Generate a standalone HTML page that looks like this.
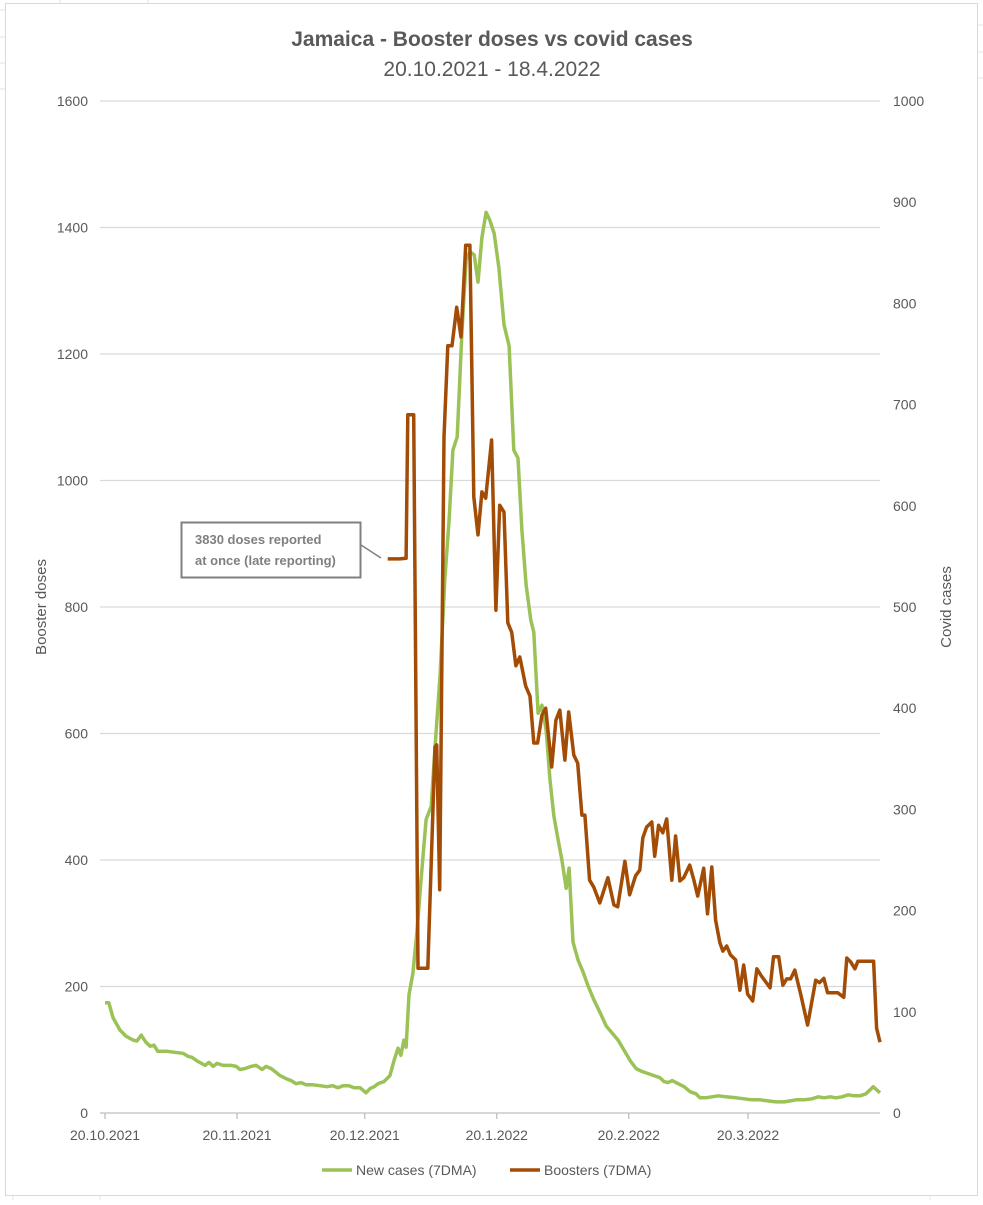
<!DOCTYPE html>
<html><head><meta charset="utf-8"><style>
body{margin:0;background:#fff;}
svg text{font-family:"Liberation Sans",sans-serif;}
</style></head><body>
<svg width="983" height="1200" xmlns="http://www.w3.org/2000/svg">
<rect x="0" y="0" width="983" height="1200" fill="#fff"/>
<g stroke="#e3e3e3" stroke-width="1">
<line x1="0" y1="10" x2="5" y2="10"/><line x1="0" y1="37" x2="5" y2="37"/><line x1="0" y1="63" x2="5" y2="63"/><line x1="0" y1="89" x2="5" y2="89"/>
<line x1="60" y1="0" x2="60" y2="3"/><line x1="148" y1="0" x2="148" y2="3"/><line x1="978" y1="25" x2="983" y2="25"/><line x1="978" y1="52" x2="983" y2="52"/><line x1="978" y1="78" x2="983" y2="78"/>
<line x1="13" y1="1196" x2="13" y2="1200"/><line x1="100" y1="1196" x2="100" y2="1200"/><line x1="930" y1="1196" x2="930" y2="1200"/>
</g>
<rect x="5.5" y="3.5" width="972" height="1192" fill="#fff" stroke="#d9d9d9"/>
<text x="492" y="46" text-anchor="middle" font-size="21" font-weight="bold" fill="#595959">Jamaica - Booster doses vs covid cases</text>
<text x="492" y="76" text-anchor="middle" font-size="21" fill="#595959">20.10.2021 - 18.4.2022</text>
<g id="grid"></g>
<g id="yl"></g>
<g id="yr"></g>
<g id="xl"></g>
<text transform="translate(46,607) rotate(-90)" text-anchor="middle" font-size="15" fill="#595959">Booster doses</text>
<text transform="translate(951,607) rotate(-90)" text-anchor="middle" font-size="15" fill="#595959">Covid cases</text>
<path id="cases" fill="none" stroke="#9bc256" stroke-width="3.5" stroke-linejoin="round"/>
<path id="boost" fill="none" stroke="#a24c06" stroke-width="3.5" stroke-linejoin="round"/>
<line x1="361" y1="545" x2="381" y2="558" stroke="#808080" stroke-width="1.5"/>
<rect x="181.5" y="522.5" width="179" height="55" fill="#fff" stroke="#808080" stroke-width="2"/>
<text font-size="13" font-weight="bold" fill="#7f7f7f"><tspan x="195" y="544">3830 doses reported</tspan><tspan x="195" y="565">at once (late reporting)</tspan></text>
<g>
<line x1="322" y1="1170" x2="352" y2="1170" stroke="#9bc256" stroke-width="3.5"/>
<text x="356" y="1175" font-size="14" fill="#595959">New cases (7DMA)</text>
<line x1="510" y1="1170" x2="540" y2="1170" stroke="#a24c06" stroke-width="3.5"/>
<text x="544" y="1175" font-size="14" fill="#595959">Boosters (7DMA)</text>
</g>
</svg>
<script>
const boostDays=[66.4,69.2,70.7,71.1,72.5,73.5,75.8,77.5,77.9,78.6,79.6,80.5,81.5,82.6,83.6,84.7,85.7,86.6,87.6,88.5,89.4,90.8,91.8,92.7,93.7,94.6,95.5,96.5,97.4,98.8,99.8,100.7,101.6,102.6,103.5,104.9,105.9,106.8,108.0,108.9,110.1,111.0,112.0,112.7,113.8,114.8,116.2,118.1,119.5,120.4,122.1,123.2,124.6,125.6,126.3,127.2,128.4,129.1,130.0,131.0,131.9,133.1,134.0,135.0,135.9,137.3,138.3,139.2,140.6,141.5,142.5,143.4,144.4,145.1,146.0,146.9,148.1,149.1,150.0,150.9,152.1,153.1,154.0,155.2,156.2,157.0,158.2,159.2,160.1,161.0,162.0,163.4,165.0,166.9,167.8,168.8,169.7,170.7,172.1,173.5,174.2,175.1,176.1,176.8,180.5,181.2,182.0];
const boostVals=[876,876,877,1104,1104,229,229,579,582,353,1069,1213,1213,1274,1227,1372,1372,974,914,982,972,1064,795,961,950,775,760,707,721,675,659,585,585,629,640,547,621,637,558,634,566,553,471,471,368,357,332,372,329,326,398,345,375,384,435,452,460,406,455,443,465,368,438,367,372,392,368,343,387,315,389,305,269,256,264,250,242,194,234,188,177,228,218,207,198,247,247,202,212,212,226,187,139,210,206,213,190,190,190,183,245,239,228,240,240,134,112];
const caseDays=[0,0.9,1.9,3.5,4.9,6.6,7.5,8.5,9.6,10.6,11.5,12.4,14.6,16.4,18.3,19.5,20.4,21.8,23.5,24.4,25.4,26.3,27.7,29.6,30.8,31.7,32.9,34.3,35.5,36.9,37.8,39.0,40.2,41.1,42.5,43.7,44.9,46.0,47.2,48.6,50.5,52.1,53.5,54.7,55.9,57.3,58.5,59.9,61.3,62.2,63.2,64.1,65.5,66.9,67.9,68.8,69.5,70.2,70.7,71.4,72.3,73.3,74.2,75.4,76.6,77.5,78.7,79.8,80.8,81.7,82.7,83.8,84.8,85.7,86.7,87.6,88.5,89.5,90.4,91.4,92.5,93.7,94.9,96.0,97.0,97.9,98.9,100.0,100.7,101.7,102.6,103.6,104.5,105.4,106.4,107.3,108.3,109.0,109.9,111.1,112.3,113.4,114.8,116.3,117.7,119.1,120.5,121.9,123.3,124.7,126.1,127.5,128.9,130.3,131.3,132.2,133.2,134.6,136.0,137.4,138.8,139.7,141.1,142.5,144.0,145.8,148.2,150.1,151.9,153.8,155.7,157.6,159.5,160.9,162.3,164.2,166.0,167.5,168.9,170.3,171.7,173.1,174.5,175.9,177.3,178.7,179.7,180.4,182.0];
const caseVals=[109,109,94,82,76,72,71,77,70,66,67,61,61,60,59,56,55,51,47,50,46,49,47,47,46,43,44,46,47,43,46,44,40,37,34,32,29,30,28,28,27,26,27,25,27,27,25,25,20,24,26,29,31,37,52,64,57,72,65,117,138,181,230,290,303,361,433,527,586,655,668,769,843,851,848,821,865,890,882,869,835,779,758,655,647,576,522,487,475,395,403,378,329,294,270,250,222,242,169,151,139,126,112,99,86,79,72,62,52,44,41,39,37,35,31,30,32,29,26,21,19,15,15,16,17,16,15,14,13,13,12,11,11,12,13,13,14,16,15,16,15,16,18,17,17,19,23,26,20];
const leftTicks=[0,200,400,600,800,1000,1200,1400,1600];
const rightTicks=[0,100,200,300,400,500,600,700,800,900,1000];
const xTickDays=[0,31,61,92,123,151];
const xTickLabels=["20.10.2021","20.11.2021","20.12.2021","20.1.2022","20.2.2022","20.3.2022"];

const X0=105,X1=880,Y0=1113,Y1=101,DMAX=182;
const xs=d=>X0+d*(X1-X0)/DMAX;
const yL=v=>Y0-v*(Y0-Y1)/1600;
const yR=v=>Y0-v*(Y0-Y1)/1000;
const NS="http://www.w3.org/2000/svg";
function mk(tag,attrs,parent,txt){const e=document.createElementNS(NS,tag);for(const k in attrs)e.setAttribute(k,attrs[k]);if(txt!=null)e.textContent=txt;parent.appendChild(e);return e;}
const grid=document.getElementById('grid'),yl=document.getElementById('yl'),yr=document.getElementById('yr'),xl=document.getElementById('xl');
leftTicks.forEach(v=>{
  const g=mk('line',{x1:X0-5,x2:X1,y1:yL(v),y2:yL(v),stroke:v===0?'#bfbfbf':'#d9d9d9','stroke-width':1.3},grid);
  
  
  const t=mk('text',{x:88,y:yL(v)+5,'text-anchor':'end','font-size':14,fill:'#595959'},yl,String(v));
  
  
});
rightTicks.forEach(v=>{
  const t=mk('text',{x:893,y:yR(v)+5,'text-anchor':'start','font-size':14,fill:'#595959'},yr,String(v));
  
  
});
xTickDays.forEach((d,i)=>{
  const l=mk('line',{x1:xs(d),x2:xs(d),y1:Y0,y2:Y0+6,stroke:'#bfbfbf','stroke-width':1.3},xl);
  
  
  const t=mk('text',{x:xs(d),y:1140,'text-anchor':'middle','font-size':14,fill:'#595959'},xl,xTickLabels[i]);
  
  
});
document.getElementById('cases').setAttribute('d',caseDays.map((d,i)=>(i?'L':'M')+xs(d).toFixed(1)+','+yR(caseVals[i]).toFixed(1)).join(''));
document.getElementById('boost').setAttribute('d',boostDays.map((d,i)=>(i?'L':'M')+xs(d).toFixed(1)+','+yL(boostVals[i]).toFixed(1)).join(''));
</script>
</body></html>
